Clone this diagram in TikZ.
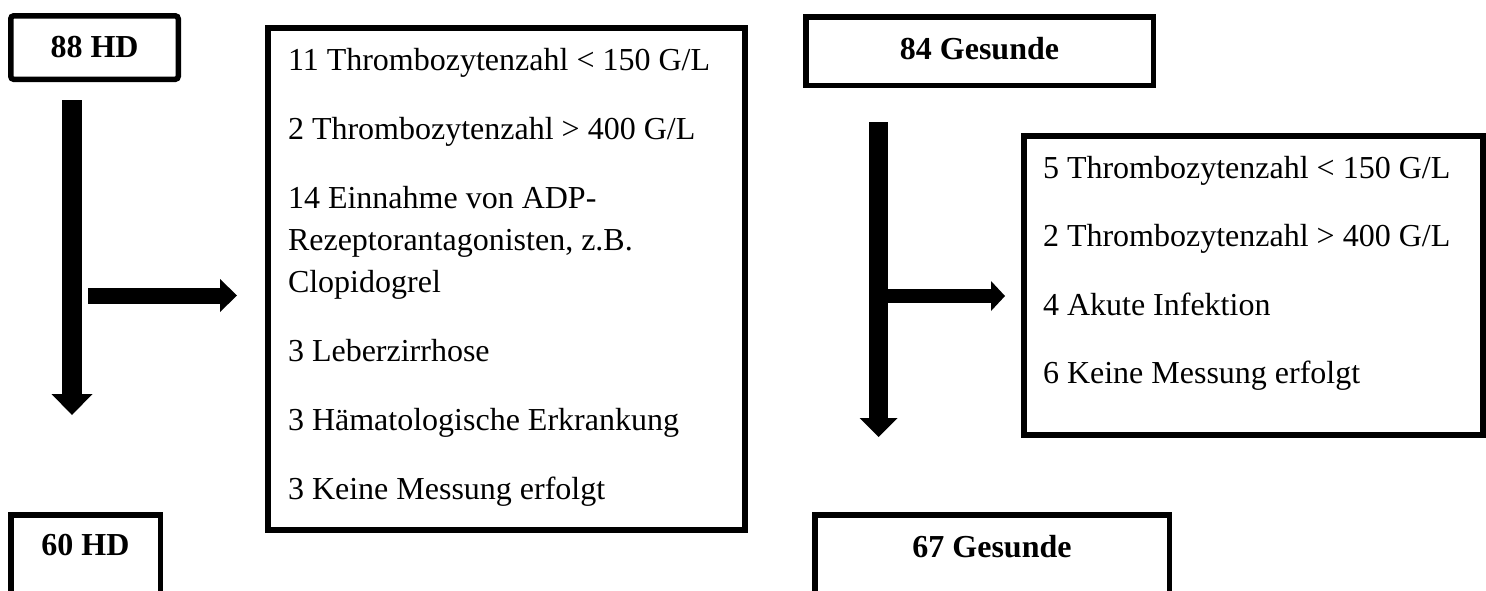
\documentclass[tikz,border=0pt]{standalone}
\usepackage{fontspec}
\setmainfont{Liberation Serif}
\usetikzlibrary{arrows.meta}

\tikzset{
  countbox/.style={draw, line width=5.5pt, inner sep=0pt, anchor=base,
    font=\fontsize{32}{38}\selectfont\bfseries},
  listbox/.style={draw, line width=6pt, inner ysep=0pt, anchor=base west,
    align=flush left, font=\fontsize{32}{42}\selectfont, text height=42pt},
  blockarrow/.style={line width=#1},
}
% one unbreakable line of a list
\newcommand{\listline}[1]{\mbox{#1}}

\begin{document}
\begin{tikzpicture}[x=1pt,y=-1pt]
\useasboundingbox (0,0) rectangle (1486,590);
\clip (0,0) rectangle (1486,590);

% patient group (HD)
\node[countbox, rounded corners=3pt, minimum width=167.5pt,
      text height=41.5pt, text depth=22pt] (hd88) at (94.5,57.3) {88 HD};
\node[countbox, minimum width=149.5pt,
      text height=40.25pt, text depth=45pt] (hd60) at (85.5,555) {60 HD};

\node[listbox, inner xsep=20pt, text width=437pt, text depth=460pt]
  (exclHD) at (265,70) {%
  \listline{11 Thrombozytenzahl < 150 G/L}\\[27pt]
  \listline{2 Thrombozytenzahl > 400 G/L}\\[27pt]
  \listline{14 Einnahme von ADP-}\\
  \listline{Rezeptorantagonisten, z.B.}\\
  \listline{Clopidogrel}\\[27pt]
  \listline{3 Leberzirrhose}\\[27pt]
  \listline{3 Hämatologische Erkrankung}\\[27pt]
  \listline{3 Keine Messung erfolgt}};

% control group
\node[countbox, minimum width=347.5pt,
      text height=42.25pt, text depth=26.25pt] (g84) at (979.5,59) {84 Gesunde};
\node[countbox, minimum width=354.5pt,
      text height=42.25pt, text depth=45pt] (g67) at (992,557) {67 Gesunde};

\node[listbox, inner xsep=19pt, text width=421pt, text depth=257pt]
  (exclG) at (1021,178) {%
  \listline{5 Thrombozytenzahl < 150 G/L}\\[26.5pt]
  \listline{2 Thrombozytenzahl > 400 G/L}\\[26.5pt]
  \listline{4 Akute Infektion}\\[26.5pt]
  \listline{6 Keine Messung erfolgt}};

% arrow end points
\coordinate (hdTop)   at (72,100);
\coordinate (hdBot)   at (72,415);
\coordinate (hdFrom)  at (88,295.5);
\coordinate (hdTo)    at (237,295.5);
\coordinate (gTop)    at (878.5,122);
\coordinate (gBot)    at (878.5,437);
\coordinate (gFrom)   at (887,296);
\coordinate (gTo)     at (1005,296);

\draw[blockarrow=20pt, -{Triangle[length=21pt,width=41pt,line width=0pt]}] (hdTop) -- (hdBot);
\draw[blockarrow=16pt, -{Triangle[length=17pt,width=33pt,line width=0pt]}] (hdFrom) -- (hdTo);
\draw[blockarrow=19pt, -{Triangle[length=19pt,width=38pt,line width=0pt]}] (gTop) -- (gBot);
\draw[blockarrow=14pt, -{Triangle[length=14pt,width=30pt,line width=0pt]}] (gFrom) -- (gTo);
\end{tikzpicture}
\end{document}
